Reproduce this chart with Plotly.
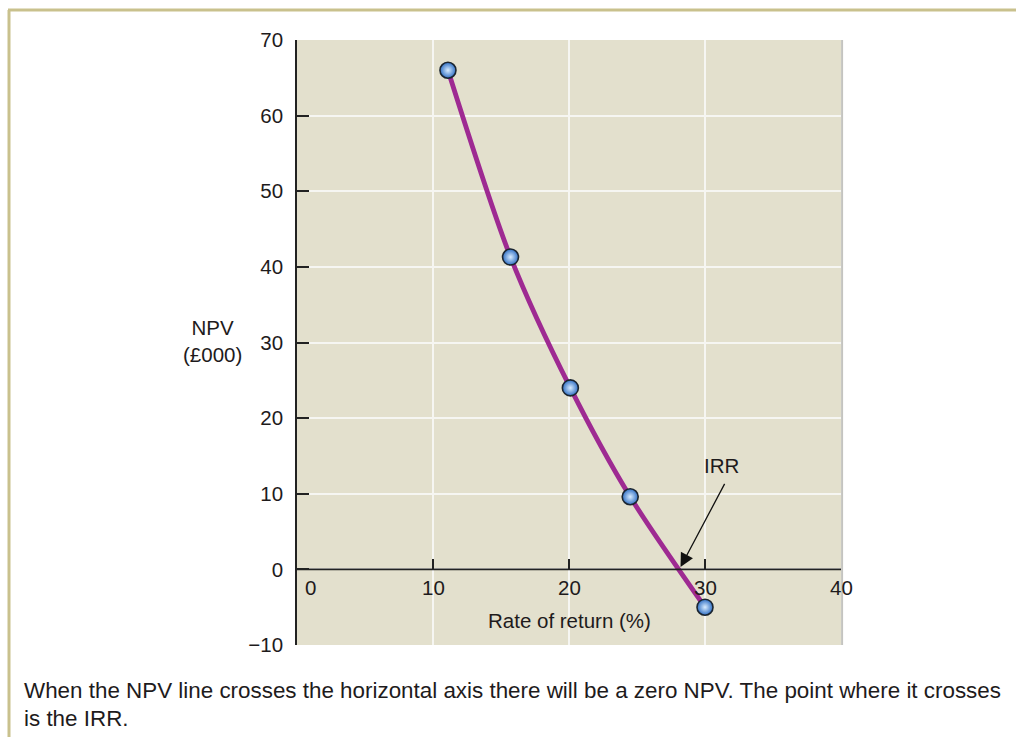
import plotly.graph_objects as go

# Data
rate = [11.1, 15.7, 20.1, 24.5, 30.0]
npv = [66.0, 41.3, 24.0, 9.6, -5.0]
x_ticks = [0, 10, 20, 30, 40]
y_ticks = [-10, 0, 10, 20, 30, 40, 50, 60, 70]
irr_rate = 28.2
caption_lines = [
    "When the NPV line crosses the horizontal axis there will be a zero NPV. The point where it crosses",
    "is the IRR.",
]

W, H = 1016, 737
L, R, T, B = 297, 175, 40, 92
PW, PH = W - L - R, H - T - B


def px(xp):
    return (xp - L) / PW


def py(yp):
    return (H - B - yp) / PH


FONT = "Liberation Sans, Arial, Helvetica, sans-serif"
TXT = "#1e1b1c"
FS = 20.5

fig = go.Figure()
fig.add_trace(go.Scatter(
    x=rate, y=npv, mode="lines",
    line=dict(color="#9e2a92", width=4.8, shape="spline", smoothing=0.8),
    hoverinfo="skip", showlegend=False,
))
fig.add_trace(go.Scatter(
    x=rate, y=npv, mode="markers",
    marker=dict(size=16, color="#2f6fc4",
                gradient=dict(type="radial", color="#d8ecff"),
                line=dict(color="#1b2530", width=1.6)),
    showlegend=False,
))

annotations = []
# x tick labels (first one offset right of the vertical axis)
for v in x_ticks:
    annotations.append(dict(
        x=v, y=0, xref="x", yref="y", text=str(v), showarrow=False,
        xanchor="center", yanchor="top", yshift=-5, xshift=13 if v == 0 else 0,
        font=dict(size=FS, color=TXT, family=FONT)))
# axis titles
annotations.append(dict(x=20, y=0, xref="x", yref="y", text="Rate of return (%)",
                        showarrow=False, xanchor="center", yanchor="top", yshift=-38,
                        font=dict(size=FS, color=TXT, family=FONT)))
annotations.append(dict(x=px(212), y=py(341), xref="paper", yref="paper",
                        text="NPV<br>(£000)", showarrow=False,
                        xanchor="center", yanchor="middle",
                        font=dict(size=FS, color=TXT, family=FONT)))
# IRR
annotations.append(dict(x=irr_rate, y=0.3, xref="x", yref="y", ax=31.5, ay=11.5,
                        axref="x", ayref="y", text="", showarrow=True,
                        arrowhead=2, arrowsize=2.1, arrowwidth=1.3, arrowcolor="#111",
                        standoff=0))
annotations.append(dict(x=31.2, y=13.7, xref="x", yref="y", text="IRR", showarrow=False,
                        xanchor="center", yanchor="middle",
                        font=dict(size=FS, color=TXT, family=FONT)))
# caption
for i, line in enumerate(caption_lines):
    annotations.append(dict(x=px(22), y=py(690 + 28 * i), xref="paper", yref="paper",
                            text=line, showarrow=False, xanchor="left", yanchor="middle",
                            font=dict(size=22.4, color=TXT, family=FONT)))

border = "#c9c18d"
shapes = [
    dict(type="line", xref="paper", yref="paper", x0=px(8), x1=px(1016), y0=py(10), y1=py(10),
         line=dict(color=border, width=3)),
    dict(type="line", xref="paper", yref="paper", x0=px(9), x1=px(9), y0=py(10), y1=py(737),
         line=dict(color=border, width=3)),
    dict(type="line", xref="paper", yref="paper", x0=1.002, x1=1.002, y0=0, y1=1,
         line=dict(color="#c4c4c0", width=2)),
    dict(type="line", xref="x", yref="y", x0=0, x1=40, y0=0, y1=0,
         line=dict(color="#222", width=1.6), layer="above"),
]

fig.update_layout(
    width=W, height=H,
    margin=dict(l=L, r=R, t=T, b=B, pad=0),
    paper_bgcolor="white", plot_bgcolor="#e3e0cd",
    font=dict(family=FONT, size=FS, color=TXT),
    annotations=annotations, shapes=shapes,
    xaxis=dict(range=[0, 40], tickvals=x_ticks, showticklabels=False,
               ticks="inside", ticklen=10, tickcolor="#222", tickwidth=1.6,
               anchor="free", position=10 / 80, showline=False,
               showgrid=True, gridcolor="#f6f6f2", gridwidth=2, zeroline=False,
               fixedrange=True),
    yaxis=dict(range=[-10, 70], tickvals=y_ticks, ticks="inside", ticklen=12,
               tickcolor="#222", tickwidth=1.6, showline=True, linecolor="#222",
               linewidth=1.6, showgrid=True, gridcolor="#f6f6f2", gridwidth=2,
               zeroline=False, ticklabelstandoff=8,
               tickfont=dict(size=FS, color=TXT, family=FONT), fixedrange=True),
)

fig.write_html("out.html")
